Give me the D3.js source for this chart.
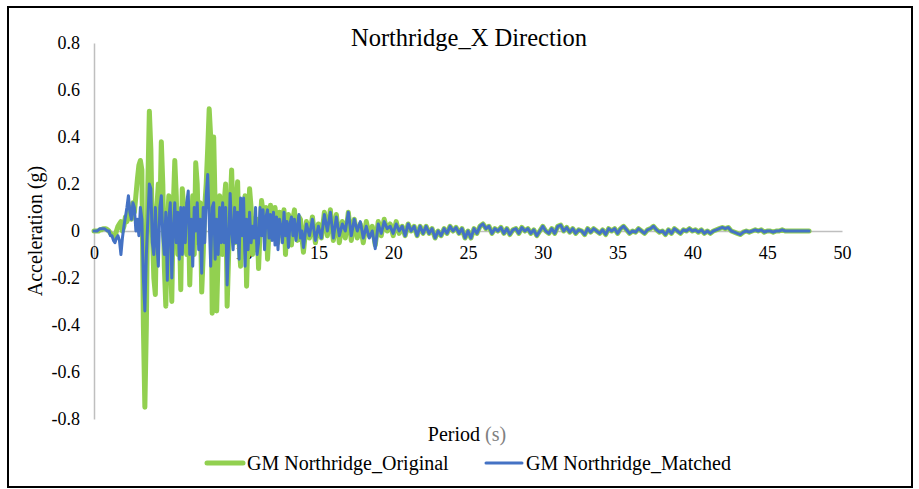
<!DOCTYPE html>
<html>
<head>
<meta charset="utf-8">
<script src="https://cdn.jsdelivr.net/npm/d3@7"></script>
<style>
  html, body { margin: 0; padding: 0; background: #fff; }
  svg { display: block; font-family: "Liberation Serif", "Times New Roman", serif; }
</style>
</head>
<body>
<svg id="chart" width="919" height="489"></svg>
<script>
// ---- data ----
const title = "Northridge_X Direction";
const xLabel = "Period";
const xUnit = "(s)";
const yLabel = "Acceleration (g)";
const seriesNames = ["GM Northridge_Original", "GM Northridge_Matched"];
const xTicks = [0, 5, 10, 15, 20, 25, 30, 35, 40, 45, 50];
const yTicks = [0.8, 0.6, 0.4, 0.2, 0, -0.2, -0.4, -0.6, -0.8];
const fineStep = 0.1;    // digitising step for t = 0 ... 13.9 s
const coarseStart = 14.0;
const coarseStep = 0.2;  // digitising step for t = 14.0 ... 47.8 s

// t = 0.0 ... 13.9 s, step 0.1
const originalFine = [
  0, 0, 0, 0, 0.005, 0.005, 0.01, 0.01, 0.01, 0.005,
  0.0, -0.01, -0.015, -0.02, -0.03, 0.0, 0.02, 0.03, 0.04, 0.0,
  0.02, 0.06, 0.04, 0.07, 0.1, 0.05, 0.12, 0.08, 0.15, 0.22,
  0.28, 0.30, 0.26, -0.4, -0.75, -0.4, 0.2, 0.51, 0.35, 0.0,
  -0.2, -0.27, 0.1, 0.2, 0.05, 0.38, 0.2, -0.15, -0.32, 0.0,
  0.15, -0.1, -0.30, 0.1, 0.30, 0.15, -0.1, 0.05, -0.25, 0.18,
  0.1, -0.05, -0.1, 0.12, -0.23, 0.0, 0.15, -0.1, 0.29, 0.2,
  -0.05, 0.12, -0.26, -0.1, 0.1, 0.2, 0.35, 0.52, 0.4, -0.35,
  0.40, 0.1, -0.34, -0.1, 0.15, 0.0, -0.1, 0.12, 0.2, -0.32,
  -0.1, 0.1, 0.26, 0.05, -0.05, 0.12, 0.21, -0.05, -0.15, 0.1,
  0.05, 0.15, -0.235, 0.0, 0.18, 0.1, -0.1, 0.05, -0.08, 0.05,
  -0.16, 0.0, 0.13, 0.08, 0.02, 0.1, -0.12, 0.0, 0.11, 0.05,
  0.0, 0.1, 0.04, -0.05, 0.08, 0.02, -0.02, 0.09, -0.10, 0.02,
  0.07, -0.02, -0.06, 0.05, 0.09, 0.0, -0.04, 0.06, 0.05, -0.03
];
const matchedFine = [
  0, 0, 0, 0.005, 0.01, 0.01, 0.01, 0.01, 0.005, 0.0,
  0.0, -0.02, -0.02, -0.04, -0.05, -0.03, -0.02, -0.04, -0.10, -0.03,
  0.02, 0.06, 0.1, 0.15, 0.08, 0.05, 0.12, 0.1, 0.0, 0.05,
  -0.02, 0.1, 0.05, -0.2, -0.34, -0.1, 0.05, 0.2, 0.18, -0.05,
  -0.1, 0.1, -0.05, -0.15, 0.1, 0.15, -0.02, -0.1, 0.08, -0.21,
  0.05, 0.12, -0.2, 0.0, 0.12, -0.05, 0.08, -0.12, 0.1, -0.1,
  0.1, -0.05, 0.12, 0.17, -0.1, 0.05, -0.15, 0.1, 0.0, 0.12,
  -0.08, 0.05, -0.18, 0.1, -0.05, 0.15, 0.24, 0.05, -0.15, 0.1,
  0.12, -0.12, 0.05, -0.1, 0.1, -0.05, 0.12, -0.05, 0.1, -0.23,
  -0.05, 0.16, 0.0, -0.08, 0.1, -0.05, 0.08, -0.12, 0.14, -0.02,
  0.14, -0.15, 0.05, -0.08, 0.08, -0.05, 0.02, -0.03, 0.1, -0.1,
  -0.05, 0.1, -0.02, 0.09, -0.08, 0.06, 0.09, -0.03, 0.07, -0.04,
  0.08, -0.06, 0.06, -0.08, 0.05, 0.02, -0.05, 0.08, -0.02, 0.04,
  -0.07, 0.03, 0.06, -0.02, 0.05, -0.04, 0.02, 0.07, -0.03, 0.0
];
// t = 14.0 ... 23.0 s, step 0.2
const originalMid = [
  -0.09, 0.04, -0.03, 0.06, -0.05, 0.03, -0.03, 0.08, -0.02, 0.09,
  -0.04, 0.07, -0.05, 0.04, -0.03, 0.08, -0.04, 0.05, -0.03, 0.03,
  -0.05, 0.04, -0.02, 0.02, -0.06, 0.04, -0.02, 0.05, 0.0, 0.03,
  -0.02, 0.04, -0.01, 0.02, -0.02, 0.03, 0.0, 0.02, -0.02, 0.02,
  -0.01, 0.02, -0.01, 0.01, -0.03, 0.0
];
const matchedMid = [
  -0.07, 0.03, -0.02, 0.05, -0.04, 0.02, -0.03, 0.07, 0.0, 0.08,
  -0.03, 0.06, -0.02, 0.03, 0.0, 0.08, -0.02, 0.05, 0.0, 0.04,
  -0.03, 0.02, -0.03, 0.0, -0.075, 0.03, -0.01, 0.04, 0.01, 0.02,
  -0.01, 0.03, 0.0, 0.02, -0.02, 0.03, 0.0, 0.02, -0.02, 0.02,
  -0.01, 0.02, -0.01, 0.01, -0.03, 0.0
];
// coda, t = 23.2 ... 47.8 s, step 0.2 (both records coincide here)
const coda = [
  -0.02, 0.01, -0.01, 0.02, 0.0, 0.015, -0.01, 0.01, -0.03, 0.0,
  -0.03, 0.01, -0.01, 0.02, 0.03, 0.01, 0.02, -0.01, 0.01, 0.0,
  0.015, -0.01, 0.01, -0.015, 0.005, 0.01, -0.01, 0.015, 0.0, 0.01,
  -0.01, 0.005, -0.02, 0.0, 0.02, 0.0, -0.01, 0.01, -0.01, 0.02,
  0.025, 0.0, 0.015, -0.005, 0.01, -0.01, 0.005, 0.0, -0.015, 0.01,
  -0.005, 0.01, 0.0, -0.01, 0.005, -0.015, 0.01, 0.0, 0.01, -0.01,
  0.01, 0.02, 0.005, -0.01, 0.0, -0.005, 0.01, 0.0, -0.01, 0.005,
  0.01, 0.02, 0.005, -0.005, 0.0, -0.015, 0.005, -0.01, 0.01, 0.0,
  -0.01, 0.005, 0.0, 0.01, 0.0, 0.005, -0.005, 0.005, -0.01, 0.0,
  -0.01, 0.0, 0.005, 0.01, 0.015, 0.01, 0.015, 0.0, -0.005, -0.01,
  -0.015, -0.005, 0.0, -0.005, 0.0, 0.005, 0.0, 0.005, -0.005, 0.0,
  0.0, -0.005, 0.0, 0.0, 0.005, 0.0, 0.0, 0.0, 0.0, 0.0,
  0.0, 0.0, 0.0, 0.0
];
const originalValues = originalFine.concat(originalMid, coda);
const matchedValues = matchedFine.concat(matchedMid, coda);
const nFine = originalFine.length;
const timeAt = i => i < nFine ? i * fineStep : coarseStart + (i - nFine) * coarseStep;

// ---- drawing ----
const svg = d3.select("#chart");
const colors = ["#92d050", "#4472c4"];
const widths = [5, 3];
const serif = '"Liberation Serif", "Times New Roman", serif';

svg.append("rect").attr("x", 8).attr("y", 7).attr("width", 904).attr("height", 480)
  .attr("fill", "#fff").attr("stroke", "#000").attr("stroke-width", 2);

const x = d3.scaleLinear().domain([0, 50]).range([94, 842]);
const y = d3.scaleLinear().domain([-0.8, 0.8]).range([419, 43]);

// y axis
const yAxis = svg.append("g").attr("transform", `translate(${x(0)},0)`)
  .attr("font-family", serif)
  .call(d3.axisLeft(y).tickValues(yTicks).tickSize(0).tickSizeOuter(0).tickPadding(14)
    .tickFormat(d => String(d)));
yAxis.select(".domain").attr("stroke", "#bfbfbf").attr("stroke-width", 1.5);
yAxis.selectAll("text").attr("font-size", 18).attr("fill", "#000").attr("font-family", serif);

// x axis at y = 0
const xAxis = svg.append("g").attr("transform", `translate(0,${y(0)})`)
  .attr("font-family", serif)
  .call(d3.axisBottom(x).tickValues(xTicks).tickSize(0).tickSizeOuter(0).tickPadding(15)
    .tickFormat(d3.format("d")));
xAxis.select(".domain").attr("stroke", "#bfbfbf").attr("stroke-width", 1.5);
xAxis.selectAll("text").attr("font-size", 18).attr("fill", "#000").attr("font-family", serif);

// series
const series = [originalValues, matchedValues];
const line = d3.line()
  .x((d, i) => x(timeAt(i)))
  .y(d => y(d));
series.forEach((vals, k) => {
  svg.append("path").datum(vals)
    .attr("d", line)
    .attr("fill", "none")
    .attr("stroke", colors[k])
    .attr("stroke-width", widths[k])
    .attr("stroke-linejoin", "round")
    .attr("stroke-linecap", "round");
});

// title
svg.append("text").attr("x", 469).attr("y", 46).attr("text-anchor", "middle")
  .attr("font-size", 24.5).attr("fill", "#000").attr("font-family", serif)
  .style("white-space", "pre").text(title);

// y label
svg.append("text").attr("transform", `translate(42,231) rotate(-90)`)
  .attr("text-anchor", "middle").attr("font-size", 20).attr("fill", "#000")
  .attr("font-family", serif).text(yLabel);

// x label
const xl = svg.append("text").attr("x", 467).attr("y", 441).attr("text-anchor", "middle")
  .attr("font-size", 20).attr("fill", "#000").attr("font-family", serif);
xl.append("tspan").text(xLabel + " ");
xl.append("tspan").attr("fill", "#808080").text(xUnit);

// legend
const legendX = [207, 486];
seriesNames.forEach((name, k) => {
  const g = svg.append("g");
  g.append("line").attr("x1", legendX[k]).attr("x2", legendX[k] + 36)
    .attr("y1", 463).attr("y2", 463)
    .attr("stroke", colors[k]).attr("stroke-width", widths[k])
    .attr("stroke-linecap", "round");
  g.append("text").attr("x", legendX[k] + 40).attr("y", 470)
    .attr("font-size", 20).attr("fill", "#000").attr("font-family", serif).text(name);
});
</script>
</body>
</html>
